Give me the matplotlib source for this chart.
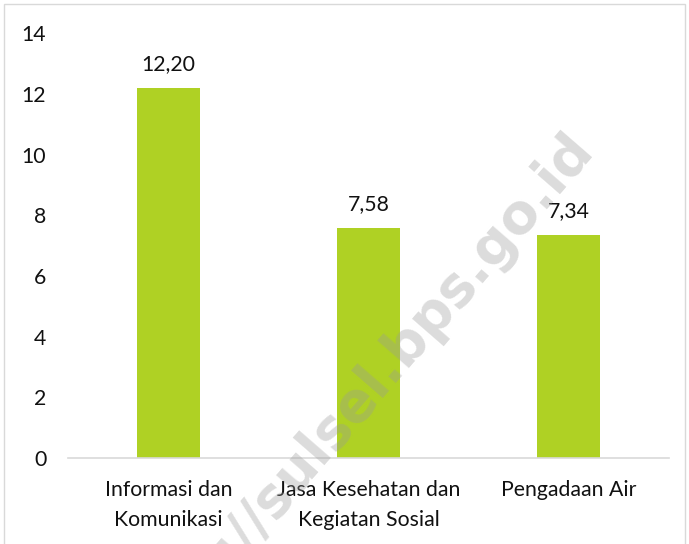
import matplotlib.pyplot as plt
from matplotlib.patches import Rectangle

categories = ['Informasi dan\nKomunikasi', 'Jasa Kesehatan dan\nKegiatan Sosial', 'Pengadaan Air']
values = [12.20, 7.58, 7.34]
labels = ['12,20', '7,58', '7,34']
yticks = [0, 2, 4, 6, 8, 10, 12, 14]

plt.rcParams['font.family'] = ['Lato', 'DejaVu Sans']
fs = 15.3

fig = plt.figure(figsize=(6.89, 5.44), dpi=100)
ax = fig.add_axes([0.0994, 0.158, 0.871, 0.781])

x = range(len(categories))
ax.bar(x, values, width=0.315, color='#afd124')
for xi, v, lab in zip(x, values, labels):
    ax.annotate(lab, (xi, v), xytext=(0, 10), textcoords='offset points',
                ha='center', va='bottom', fontsize=fs, color='#111111')

ax.set_xlim(-0.5, 2.5)
ax.set_ylim(0, 14)
ax.set_yticks(yticks)
ax.set_yticklabels([str(t) for t in yticks])
ax.set_xticks(list(x))
ax.set_xticklabels(categories, fontsize=fs, linespacing=1.6)
ax.tick_params(axis='y', length=0, pad=16, labelsize=fs, labelcolor='#111111')
ax.tick_params(axis='x', length=0, pad=16, labelcolor='#111111')
for s in ['top', 'right', 'left']:
    ax.spines[s].set_visible(False)
ax.spines['bottom'].set_color('#d9d9d9')
ax.spines['bottom'].set_linewidth(1.2)

# watermark
fig.text(0.522, 0.27, 'http://sulsel.bps.go.id', rotation=49, fontsize=39.5,
         fontweight='bold', color='#9a9a9a', alpha=0.35, ha='center', va='center',
         family=['DejaVu Sans'])

# outer border
fig.patches.append(Rectangle((0.006, -0.01), 0.988, 1.003, transform=fig.transFigure,
                             fill=False, edgecolor='#d9d9d9', linewidth=1))

fig.savefig('out.png', dpi=100)
